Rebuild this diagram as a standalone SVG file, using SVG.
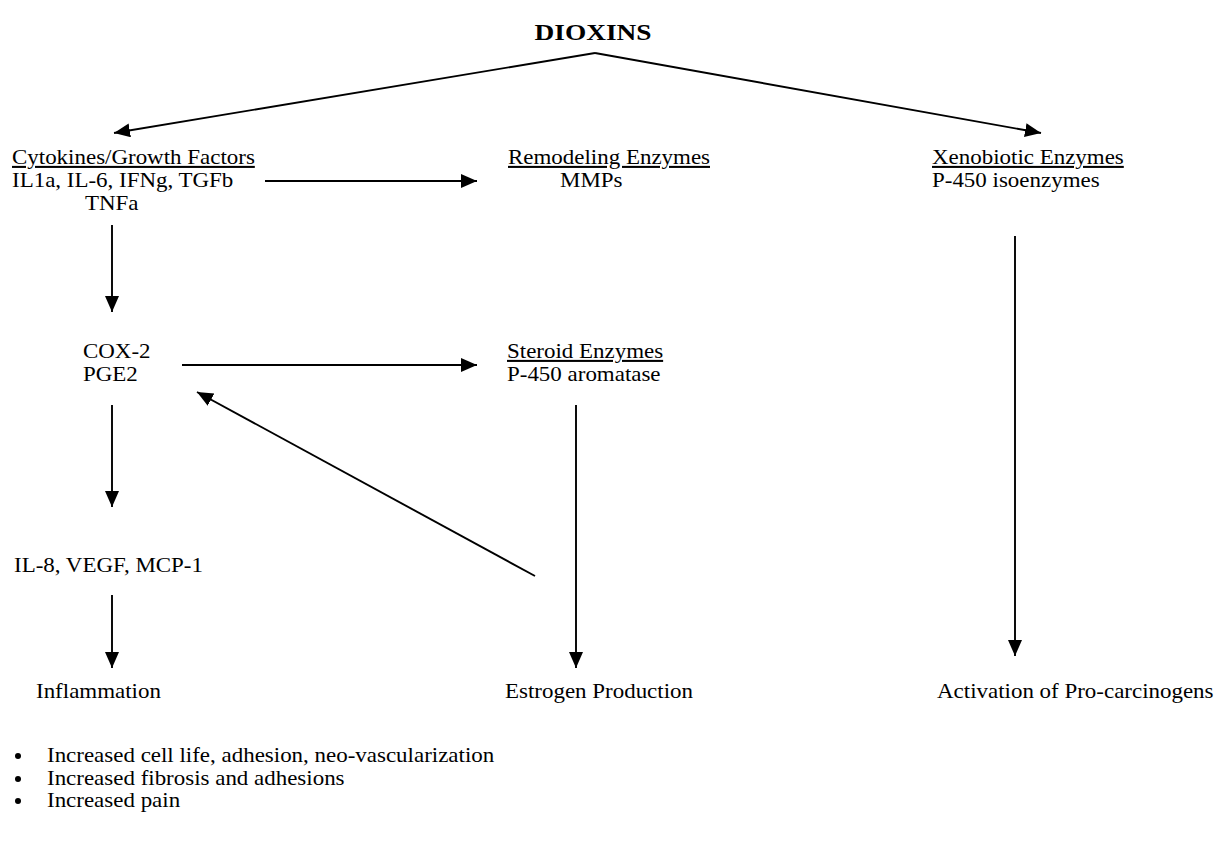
<svg xmlns="http://www.w3.org/2000/svg" width="1228" height="844" viewBox="0 0 1228 844">
<defs>
<marker id="ah" markerUnits="userSpaceOnUse" markerWidth="17" markerHeight="15" refX="16" refY="7" orient="auto">
<path d="M0,0 L16,7 L0,14 z" fill="#000"/>
</marker>
<style>
text{font-family:"Liberation Serif","Times New Roman",serif;font-size:20.5px;fill:#000}
.t{font-weight:bold;font-size:24px}
.u{text-decoration:underline}
.c{fill:none;stroke:#000;stroke-width:1.9;marker-end:url(#ah)}
</style>
</defs>
<rect width="1228" height="844" fill="#fff"/>
<g id="dioxins"><text class="t" transform="translate(593,40) scale(1.14,1)" text-anchor="middle">DIOXINS</text></g>
<g id="cytokines">
<text class="u" transform="translate(12,164) scale(1.12,1)">Cytokines/Growth Factors</text>
<text transform="translate(12,187) scale(1.12,1)">IL1a, IL-6, IFNg, TGFb</text>
<text transform="translate(85,210) scale(1.12,1)">TNFa</text>
</g>
<g id="remodeling">
<text class="u" transform="translate(508,164) scale(1.12,1)">Remodeling Enzymes</text>
<text transform="translate(560,187) scale(1.12,1)">MMPs</text>
</g>
<g id="xenobiotic">
<text class="u" transform="translate(932,164) scale(1.12,1)">Xenobiotic Enzymes</text>
<text transform="translate(932,187) scale(1.12,1)">P-450 isoenzymes</text>
</g>
<g id="cox2">
<text transform="translate(83,358) scale(1.12,1)">COX-2</text>
<text transform="translate(83,381) scale(1.12,1)">PGE2</text>
</g>
<g id="steroid">
<text class="u" transform="translate(507,358) scale(1.12,1)">Steroid Enzymes</text>
<text transform="translate(507,381) scale(1.12,1)">P-450 aromatase</text>
</g>
<g id="il8"><text transform="translate(14,572) scale(1.12,1)">IL-8, VEGF, MCP-1</text></g>
<g id="inflammation"><text transform="translate(36,698) scale(1.12,1)">Inflammation</text></g>
<g id="estrogen"><text transform="translate(505,698) scale(1.12,1)">Estrogen Production</text></g>
<g id="activation"><text transform="translate(937,698) scale(1.12,1)">Activation of Pro-carcinogens</text></g>
<g id="bullets">
<circle cx="18" cy="756" r="3"/>
<text transform="translate(47,762) scale(1.12,1)">Increased cell life, adhesion, neo-vascularization</text>
<circle cx="18" cy="779" r="3"/>
<text transform="translate(47,785) scale(1.12,1)">Increased fibrosis and adhesions</text>
<circle cx="18" cy="801" r="3"/>
<text transform="translate(47,807) scale(1.12,1)">Increased pain</text>
</g>
<g id="connectors">
<path class="c" d="M595,53 L114,133"/>
<path class="c" d="M595,53 L1041,133"/>
<path class="c" d="M265,181 L477,181"/>
<path class="c" d="M112,225 L112,312"/>
<path class="c" d="M182,365 L477,365"/>
<path class="c" d="M112,405 L112,507"/>
<path class="c" d="M112,595 L112,668"/>
<path class="c" d="M576,405 L576,668"/>
<path class="c" d="M535,576 L197,392"/>
<path class="c" d="M1015,236 L1015,656"/>
</g>
</svg>
